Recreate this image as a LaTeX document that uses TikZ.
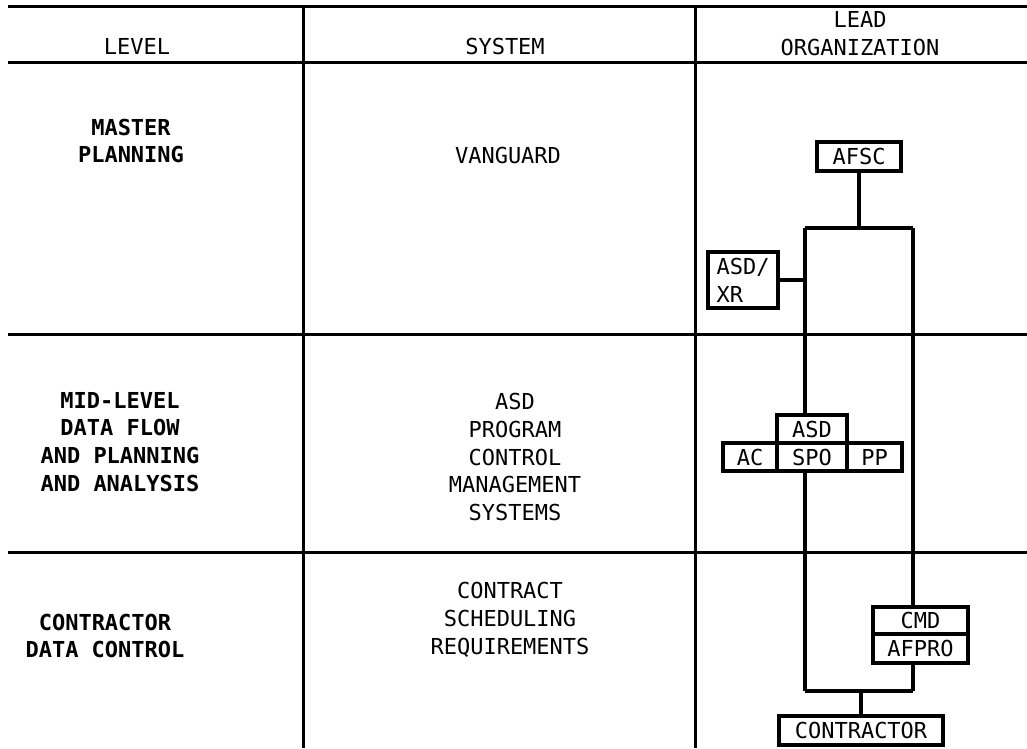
\documentclass[tikz,border=0pt]{standalone}
\usepackage{fontspec}
\setmainfont{DejaVu Sans Mono}
\begin{document}
\begin{tikzpicture}[x=1pt,y=-1pt,
  grid/.style={line width=3pt},
  txt/.style={font=\fontsize{22}{27.8}\selectfont, align=center, inner sep=0pt},
  heavy/.style={txt, font=\fontsize{22}{27.8}\selectfont\bfseries},
  box/.style={draw, line width=3.4pt, inner sep=0pt, font=\fontsize{22}{27.8}\selectfont},
  link/.style={line width=3.4pt}]
\useasboundingbox (0,0) rectangle (1027,748);
% table grid
\coordinate (hl0) at (8,6);   \coordinate (hr0) at (1027,6);
\coordinate (hl1) at (8,62);  \coordinate (hr1) at (1027,62);
\coordinate (hl2) at (8,334); \coordinate (hr2) at (1027,334);
\coordinate (hl3) at (8,552); \coordinate (hr3) at (1027,552);
\coordinate (v1t) at (303,6); \coordinate (v1b) at (303,748);
\coordinate (v2t) at (695,6); \coordinate (v2b) at (695,748);
\draw[grid] (hl0) -- (hr0);
\draw[grid] (hl1) -- (hr1);
\draw[grid] (hl2) -- (hr2);
\draw[grid] (hl3) -- (hr3);
\draw[grid] (v1t) -- (v1b);
\draw[grid] (v2t) -- (v2b);
% headers
\node[txt] (hlevel) at (137,46) {LEVEL};
\node[txt] (hsys) at (505,46) {SYSTEM};
\node[txt] (hlead) at (860,34) {LEAD\\ORGANIZATION};
% level column
\node[heavy] (lmaster) at (131,141) {MASTER\\PLANNING};
\node[heavy] (lmid) at (120,442) {MID-LEVEL\\DATA FLOW\\AND PLANNING\\AND ANALYSIS};
\node[heavy] (lcon) at (105,636) {CONTRACTOR\\DATA CONTROL};
% system column
\node[txt] (svan) at (508,155) {VANGUARD};
\node[txt] (sasd) at (515,457) {ASD\\PROGRAM\\CONTROL\\MANAGEMENT\\SYSTEMS};
\node[txt] (scon) at (510,620) {CONTRACT\\SCHEDULING\\REQUIREMENTS};
% organisation boxes
\node[box, minimum width=84pt, minimum height=29pt] (afsc) at (859,156.5) {AFSC};
\node[box, minimum width=70pt, minimum height=56pt, align=left] (asdxr) at (743,280) {ASD/\\XR};
\node[box, minimum width=70pt, minimum height=28pt] (asd) at (812,429) {ASD};
\node[box, minimum width=70pt, minimum height=28pt] (spo) at (812,457) {SPO};
\node[box, minimum width=54pt, minimum height=28pt] (ac) at (750,457) {AC};
\node[box, minimum width=55pt, minimum height=28pt] (pp) at (874.5,457) {PP};
\node[box, minimum width=95pt, minimum height=27pt] (cmd) at (920.5,620.5) {CMD};
\node[box, minimum width=95pt, minimum height=29pt] (afpro) at (920.5,648.5) {AFPRO};
\node[box, minimum width=164pt, minimum height=29pt] (contr) at (861,730.5) {CONTRACTOR};
% connectors
\coordinate (tj) at (859,228);
\coordinate (tl) at (805,228);
\coordinate (tr) at (913,228);
\coordinate (bl) at (805,691);
\coordinate (br) at (913,691);
\coordinate (bj) at (861,691);
\draw[link] (afsc.south) -- (tj);
\draw[link] (tl) -- (tr);
\draw[link] (tl) -- (tl |- asd.north);
\draw[link] (asdxr.east) -- (asdxr.east -| tl);
\draw[link] (spo.south -| tl) -- (bl);
\draw[link] (tr) -- (tr |- cmd.north);
\draw[link] (afpro.south -| tr) -- (br);
\draw[link] (bl) -- (br);
\draw[link] (bj) -- (contr.north);
\end{tikzpicture}
\end{document}
